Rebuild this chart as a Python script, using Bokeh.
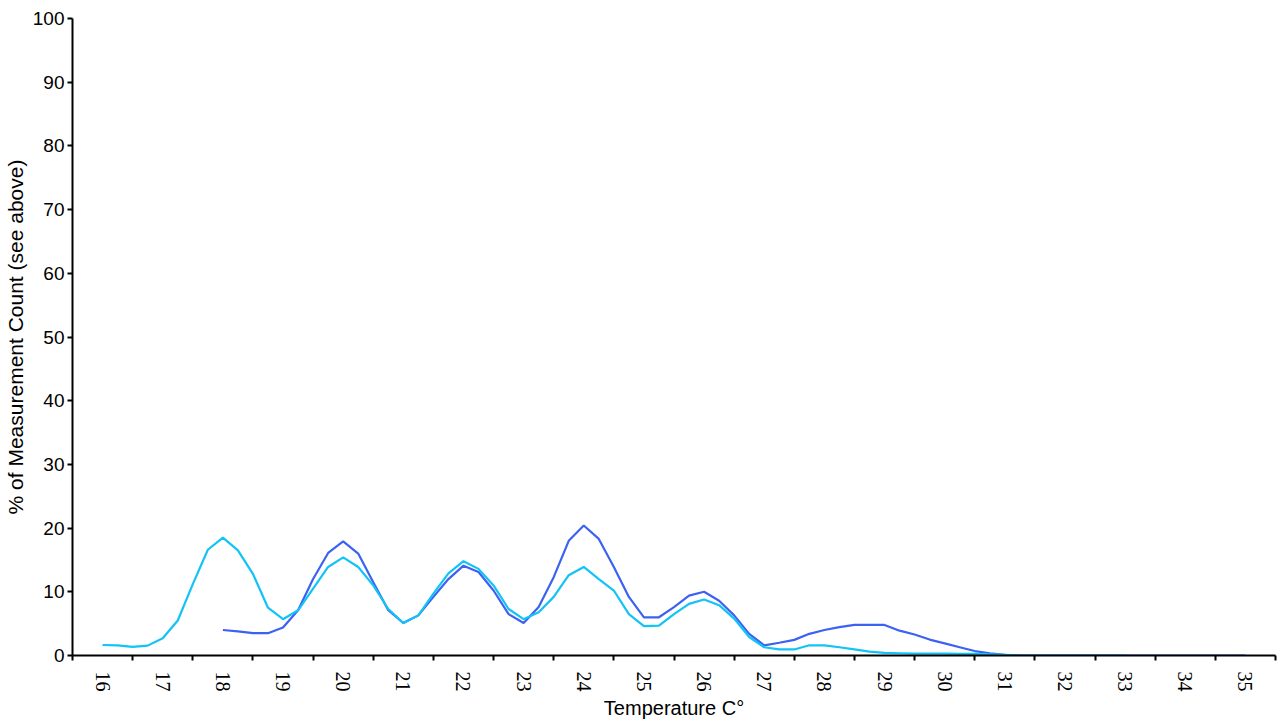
from bokeh.plotting import figure
from bokeh.models import FixedTicker, Range1d
from bokeh.embed import file_html
from bokeh.resources import INLINE

# temperature categories shown on the x axis
categories = [16, 17, 18, 19, 20, 21, 22, 23, 24, 25, 26, 27, 28, 29, 30, 31, 32, 33, 34, 35]
y_ticks = [0, 10, 20, 30, 40, 50, 60, 70, 80, 90, 100]

# light (cyan) series, one reading every 0.25 C from 16 to 33
temp_light = [16, 16.25, 16.5, 16.75, 17, 17.25, 17.5, 17.75, 18, 18.25, 18.5, 18.75,
              19, 19.25, 19.5, 19.75, 20, 20.25, 20.5, 20.75, 21, 21.25, 21.5, 21.75,
              22, 22.25, 22.5, 22.75, 23, 23.25, 23.5, 23.75, 24, 24.25, 24.5, 24.75,
              25, 25.25, 25.5, 25.75, 26, 26.25, 26.5, 26.75, 27, 27.25, 27.5, 27.75,
              28, 28.25, 28.5, 28.75, 29, 29.25, 29.5, 29.75, 30, 30.25, 30.5, 30.75,
              31, 31.25, 31.5, 31.75, 32, 32.25, 32.5, 32.75, 33]
pct_light = [1.65, 1.6, 1.35, 1.55,
             2.7, 5.5, 11.2, 16.6,
             18.5, 16.5, 12.8, 7.5,
             5.7, 7.1, 10.5, 13.9,
             15.4, 13.9, 11.0, 7.3,
             5.1, 6.3, 9.7, 12.9,
             14.8, 13.6, 11.0, 7.3,
             5.7, 6.8, 9.2, 12.6,
             13.9, 12.0, 10.2, 6.5,
             4.6, 4.7, 6.5, 8.1,
             8.8, 7.9, 5.8, 2.9,
             1.3, 0.95, 0.95, 1.6,
             1.6, 1.3, 0.95, 0.6,
             0.4, 0.35, 0.3, 0.3,
             0.3, 0.25, 0.25, 0.2,
             0.1, 0, 0, 0,
             0, 0, 0, 0,
             0]

# dark (blue) series, one reading every 0.25 C from 18 to 35
temp_dark = [18, 18.25, 18.5, 18.75, 19, 19.25, 19.5, 19.75, 20, 20.25, 20.5, 20.75,
             21, 21.25, 21.5, 21.75, 22, 22.25, 22.5, 22.75, 23, 23.25, 23.5, 23.75,
             24, 24.25, 24.5, 24.75, 25, 25.25, 25.5, 25.75, 26, 26.25, 26.5, 26.75,
             27, 27.25, 27.5, 27.75, 28, 28.25, 28.5, 28.75, 29, 29.25, 29.5, 29.75,
             30, 30.25, 30.5, 30.75, 31, 31.25, 31.5, 31.75, 32, 32.25, 32.5, 32.75,
             33, 33.25, 33.5, 33.75, 34, 34.25, 34.5, 34.75, 35]
pct_dark = [4.0, 3.8, 3.5, 3.5,
            4.4, 7.1, 12.0, 16.1,
            17.9, 16.0, 11.5, 7.1,
            5.1, 6.3, 9.2, 12.0,
            14.1, 13.1, 10.2, 6.5,
            5.1, 7.6, 12.3, 18.0,
            20.4, 18.3, 13.9, 9.2,
            6.0, 6.0, 7.6, 9.4,
            10.0, 8.6, 6.3, 3.4,
            1.6, 2.0, 2.45, 3.4,
            4.0, 4.45, 4.8, 4.8,
            4.8, 3.9, 3.3, 2.5,
            1.9, 1.3, 0.7, 0.35,
            0.1, 0, 0, 0,
            0, 0, 0, 0,
            0, 0, 0, 0,
            0, 0, 0, 0,
            0]

bin_edges = [c - 0.5 for c in categories] + [categories[-1] + 0.5]

p = figure(frame_width=1203, frame_height=637,
           x_range=Range1d(bin_edges[0], bin_edges[-1]), y_range=Range1d(0, 100),
           output_backend="svg", toolbar_location=None, tools="",
           min_border_left=65, min_border_top=18, min_border_right=2, min_border_bottom=10)
p.outline_line_color = None
p.xgrid.grid_line_color = None
p.ygrid.grid_line_color = None

p.line(temp_dark, pct_dark, line_color="#3b62f2", line_width=2.2)
p.line(temp_light, pct_light, line_color="#12c3f6", line_width=2.2)

font = "Liberation Sans"

xa = p.xaxis[0]
xa.ticker = FixedTicker(ticks=categories, minor_ticks=bin_edges)
xa.major_tick_out = 0
xa.major_tick_in = 0
xa.minor_tick_out = 5
xa.minor_tick_in = 0
xa.minor_tick_line_width = 2
xa.minor_tick_line_color = "black"
xa.axis_line_width = 2
xa.axis_line_color = "black"
xa.major_label_orientation = "vertical"
xa.major_label_standoff = 11
xa.major_label_text_font = "Liberation Sans Narrow"
xa.major_label_text_font_size = "20px"
xa.major_label_text_color = "black"
xa.axis_label = "Temperature C\u00b0"
xa.axis_label_text_font = font
xa.axis_label_text_font_size = "20px"
xa.axis_label_text_font_style = "normal"
xa.axis_label_text_color = "black"
xa.axis_label_standoff = 2

ya = p.yaxis[0]
ya.ticker = FixedTicker(ticks=y_ticks)
ya.major_tick_out = 5
ya.major_tick_in = 0
ya.major_tick_line_width = 2
ya.minor_tick_line_color = None
ya.axis_line_width = 2
ya.axis_line_color = "black"
ya.major_label_standoff = 3
ya.major_label_text_font = font
ya.major_label_text_font_size = "19px"
ya.major_label_text_color = "black"
ya.axis_label = "% of Measurement Count (see above)"
ya.axis_label_text_font = font
ya.axis_label_text_font_size = "21px"
ya.axis_label_text_font_style = "normal"
ya.axis_label_text_color = "black"
ya.axis_label_standoff = 3

open("out.html", "w").write(file_html(p, INLINE))
